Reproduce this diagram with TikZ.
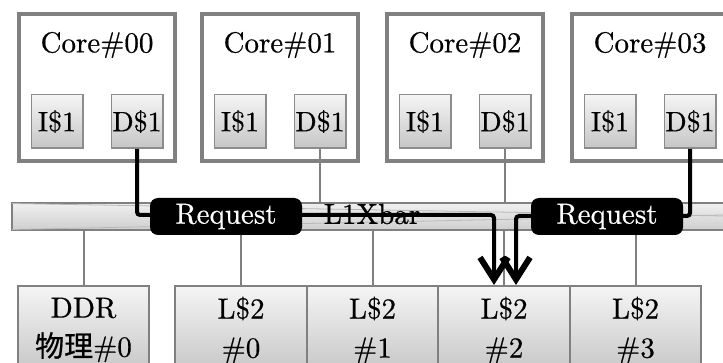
\documentclass[tikz,border=0pt]{standalone}
\usepackage{fontspec}
\setmainfont{lmroman10-regular.otf}[FakeBold=0.6]
\newfontfamily\cjk{Noto Sans CJK JP}[FakeBold=0.6]
\usetikzlibrary{arrows.meta}

\tikzset{
  core/.style={draw=gray, line width=4pt, minimum width=156pt, minimum height=147pt, inner sep=0pt},
  corename/.style={inner sep=0pt, font=\fontsize{29}{34}\selectfont},
  cache/.style={draw=gray!90, line width=1.5pt, top color=gray!8, bottom color=gray!45,
    minimum width=51.5pt, minimum height=53.5pt, inner sep=0pt, font=\fontsize{28}{32}\selectfont},
  membox/.style={draw=gray, line width=2pt, top color=gray!8, bottom color=gray!45,
    minimum width=131.5pt, minimum height=88pt, inner sep=0pt, align=center,
    font=\fontsize{29}{39}\selectfont, anchor=north},
  xbar/.style={draw=gray, line width=2pt, top color=gray!12, bottom color=gray!38,
    minimum width=727pt, minimum height=27pt, inner sep=0pt},
  barline/.style={draw=gray!55, line width=0.8pt},
  wire/.style={draw=gray, line width=2pt},
  req/.style={draw=black, line width=4pt, rounded corners=3pt,
    -{Straight Barb[length=22pt,width=28pt,line width=6pt]}},
  reqlabel/.style={fill=black, text=white, rounded corners=8pt, minimum width=152pt,
    minimum height=37pt, inner sep=0pt, font=\fontsize{29}{34}\selectfont},
}

\begin{document}
\begin{tikzpicture}[x=1pt, y=-1pt]
\useasboundingbox (0,0) rectangle (723,363);
\clip (0,0) rectangle (723,363);

% processor cores with their first-level caches
\foreach \i/\cx in {0/97, 1/280, 2/465, 3/650} {
  \node[core] (core\i) at (\cx,87.5) {};
  \node[corename] (name\i) at (\cx,45) {Core\#0\i};
  \node[cache] (i\i) at (\cx-40,121.5) {I\$1};
  \node[cache] (d\i) at (\cx+40,121.5) {D\$1};
}

% second-level caches and DDR
\node[membox] (ddr) at (83.5,285) {DDR\\{\cjk 物理}\#0};
\node[membox] (l0) at (241,285) {L\$2\\\#0};
\node[membox] (l1) at (372.5,285) {L\$2\\\#1};
\node[membox] (l2) at (504,285) {L\$2\\\#2};
\node[membox] (l3) at (635.5,285) {L\$2\\\#3};

% crossbar
\node[xbar] (bar) at (375.5,216.5) {};
\draw[barline] (12,203.5) -- (723,216);
\draw[barline] (12,229.5) -- (723,215);

% grey links to the crossbar
\draw[wire] (d1.south) -- (d1.south |- bar.north);
\draw[wire] (d2.south) -- (d2.south |- bar.north);
\foreach \m in {ddr, l0, l1, l2, l3}
  \draw[wire] (\m.north) -- (\m.north |- bar.south);

\node[corename] (barname) at (372,214) {L1Xbar};

% request paths from core 00 and core 03 into L$2 #2
\coordinate (jl) at (494,215);
\coordinate (jr) at (516,216);
\draw[req] (d0.south) |- (jl) -- (jl |- l2.north);
\draw[req] (d3.south) |- (jr) -- (jr |- l2.north);

\node[reqlabel] (rq0) at (226,216.5) {Request};
\node[reqlabel] (rq3) at (607,216.5) {Request};
\end{tikzpicture}
\end{document}
